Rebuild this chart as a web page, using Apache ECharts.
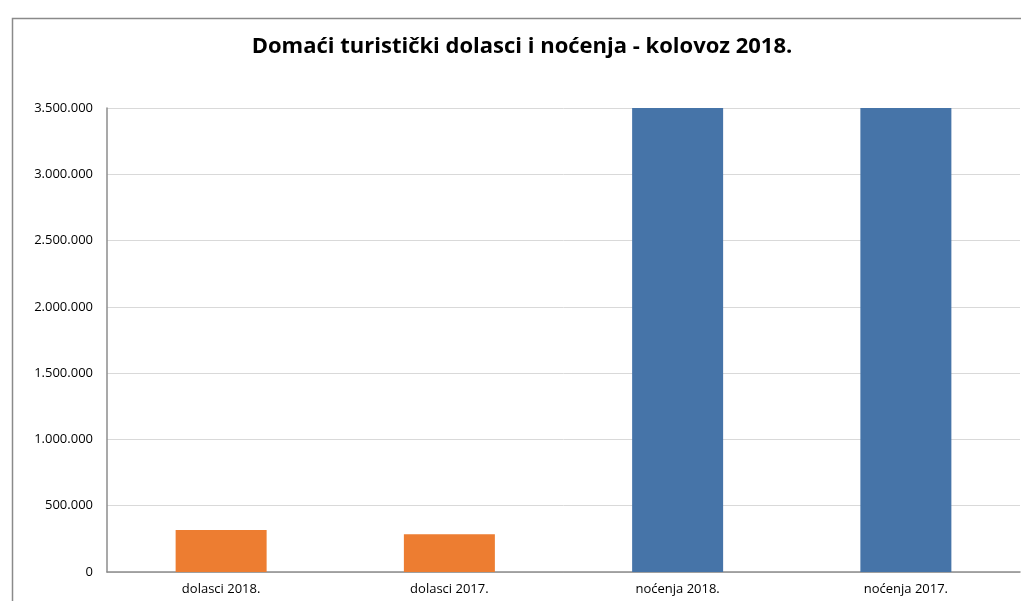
<!DOCTYPE html>
<html>
<head>
<meta charset="utf-8">
<script src="https://cdn.jsdelivr.net/npm/echarts@6/dist/echarts.min.js"></script>
<style>html,body{margin:0;padding:0;background:#fff;}#c{width:1021px;height:601px;}</style>
</head>
<body>
<div id="c"></div>
<script>
const titleText = 'Domaći turistički dolasci i noćenja - kolovoz 2018.';
const categories = ['dolasci 2018.', 'dolasci 2017.', 'noćenja 2018.', 'noćenja 2017.'];
const values = [317000, 284000, 3700000, 3650000];
const barColors = ['#ED7D31', '#ED7D31', '#4674A8', '#4674A8'];
const yTicks = [0, 500000, 1000000, 1500000, 2000000, 2500000, 3000000, 3500000];

function fmt(v) {
  return String(v).replace(/\B(?=(\d{3})+(?!\d))/g, '.');
}

const chart = echarts.init(document.getElementById('c'));
chart.setOption({
  animation: false,
  backgroundColor: '#fff',
  title: {
    text: titleText,
    left: 517, top: 31, textAlign: 'center',
    textStyle: { fontFamily: 'Open Sans', fontSize: 22, fontWeight: 'bold', color: '#000' }
  },
  graphic: [{
    type: 'rect', left: 10, top: 16, shape: { width: 1100, height: 700 },
    style: { fill: 'none', stroke: '#8a8a8a', lineWidth: 1.5 }, silent: true, z: -1
  }],
  grid: { left: 107, right: 1, top: 108, bottom: 29, containLabel: false },
  xAxis: {
    type: 'category', data: categories,
    axisLine: { lineStyle: { color: '#8c8c8c', width: 1.5 } },
    axisTick: { show: false },
    axisLabel: { color: '#000', fontFamily: 'Open Sans', fontSize: 13, margin: 11 }
  },
  yAxis: {
    type: 'value', min: yTicks[0], max: yTicks[yTicks.length - 1], interval: 500000,
    axisLine: { show: true, lineStyle: { color: '#8c8c8c', width: 1.5 } },
    axisTick: { show: false },
    splitLine: { lineStyle: { color: '#d9d9d9', width: 1 } },
    axisLabel: { color: '#000', fontFamily: 'Open Sans', fontSize: 13, margin: 14, formatter: fmt }
  },
  series: [{
    type: 'bar', barWidth: 91, clip: true,
    data: values.map((v, i) => ({ value: v, itemStyle: { color: barColors[i] } }))
  }]
});
</script>
</body>
</html>
